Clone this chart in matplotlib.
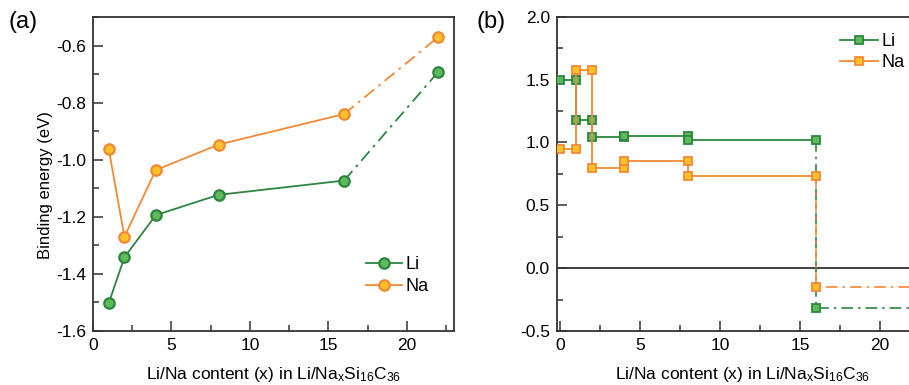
import matplotlib.pyplot as plt
from matplotlib.ticker import MultipleLocator

plt.rcParams['font.family'] = ['Liberation Sans', 'DejaVu Sans']
plt.rcParams['mathtext.default'] = 'regular'
plt.rcParams['axes.unicode_minus'] = False

# (a) binding energy
x_a = [1, 2, 4, 8, 16, 22]
li_energy = [-1.503, -1.342, -1.194, -1.123, -1.073, -0.692]
na_energy = [-0.961, -1.270, -1.036, -0.947, -0.840, -0.570]

# (b) voltage plateaus between x_edges
x_edges = [0, 1, 2, 4, 8, 16, 22]
li_volt = [1.50, 1.18, 1.045, 1.05, 1.02, -0.32]
na_volt = [0.95, 1.58, 0.80, 0.855, 0.73, -0.15]

green_line = '#2e8540'
green_face = '#5dbb5a'
orange_line = '#f28a35'
orange_face = '#ffc02a'
dashdot = (0, (7, 3, 1.5, 3))
xlab = 'Li/Na content (x) in Li/Na$_x$Si$_{16}$C$_{36}$'

fig = plt.figure(figsize=(9.09, 3.85), dpi=100)
ax1 = fig.add_axes([93 / 909, 54 / 385, 361 / 909, 314 / 385])
ax2 = fig.add_axes([556.7 / 909, 54 / 385, 371.3 / 909, 314.3 / 385])


def style(ax):
    for s in ax.spines.values():
        s.set_color('#333333')
        s.set_linewidth(1.3)
    ax.tick_params(which='both', direction='in', top=False, right=False,
                   colors='#333333', labelcolor='black', labelsize=12.5, width=1.1)
    ax.tick_params(which='major', length=7, pad=5)
    ax.tick_params(which='minor', length=4)


# panel (a)
for y, lc, fc, lab in [(li_energy, green_line, green_face, 'Li'),
                       (na_energy, orange_line, orange_face, 'Na')]:
    ax1.plot(x_a[:-1], y[:-1], '-', color=lc, lw=1.3, marker='o', ms=7.5,
             mfc=fc, mec=lc, mew=1.6, label=lab, zorder=3)
    ax1.plot(x_a[-2:], y[-2:], linestyle=dashdot, color=lc, lw=1.3, zorder=2)
    ax1.plot(x_a[-1:], y[-1:], 'o', ms=7.5, mfc=fc, mec=lc, mew=1.6, zorder=3)

ax1.set_xlim(0, 23)
ax1.set_ylim(-1.6, -0.5)
ax1.xaxis.set_major_locator(MultipleLocator(5))
ax1.xaxis.set_minor_locator(MultipleLocator(2.5))
ax1.yaxis.set_minor_locator(MultipleLocator(0.1))
ax1.set_yticks([-1.6, -1.4, -1.2, -1.0, -0.8, -0.6])
ax1.set_yticklabels(['-1.6', '-1.4', '-1.2', '-1.0', '-0.8', '-0.6'])
style(ax1)
ax1.set_ylabel('Binding energy (eV)', fontsize=12)
ax1.yaxis.set_label_coords(-0.11, 0.465)
ax1.set_xlabel(xlab, fontsize=12.5, labelpad=9)
ax1.legend(loc='lower right', bbox_to_anchor=(0.975, 0.063), frameon=False,
           fontsize=13, handlelength=2.0, handletextpad=0.2, labelspacing=0.25)
fig.text(9 / 909, 1 - 22 / 385, '(a)', fontsize=17, va='center')

# panel (b)
for v, lc, fc, lab in [(li_volt, green_line, green_face, 'Li'),
                       (na_volt, orange_line, orange_face, 'Na')]:
    xs, ys = [], []
    for i in range(len(v) - 1):
        xs += [x_edges[i], x_edges[i + 1]]
        ys += [v[i], v[i]]
    ax2.plot(xs, ys, '-', color=lc, lw=1.3, marker='s', ms=5.5,
             mfc=fc, mec=lc, mew=1.3, label=lab, zorder=3)
    ax2.plot([x_edges[-2], x_edges[-2], x_edges[-1]], [v[-2], v[-1], v[-1]],
             linestyle=dashdot, color=lc, lw=1.2, zorder=2)
    ax2.plot([x_edges[-2]], [v[-1]], 's', ms=5.5, mfc=fc, mec=lc, mew=1.3, zorder=3)

ax2.axhline(0, color='#333333', lw=1.3, zorder=1)
ax2.set_xlim(-0.2, 23)
ax2.set_ylim(-0.5, 2.0)
ax2.xaxis.set_major_locator(MultipleLocator(5))
ax2.xaxis.set_minor_locator(MultipleLocator(2.5))
ax2.yaxis.set_major_locator(MultipleLocator(0.5))
ax2.yaxis.set_minor_locator(MultipleLocator(0.25))
style(ax2)
ax2.set_xlabel(xlab, fontsize=12.5, labelpad=9)
ax2.legend(loc='upper left', bbox_to_anchor=(0.72, 1.0), frameon=False,
           fontsize=13, handlelength=2.1, handletextpad=0.2, labelspacing=0.25)
fig.text(476 / 909, 1 - 22 / 385, '(b)', fontsize=17, va='center')

fig.savefig('out.png', dpi=100)
